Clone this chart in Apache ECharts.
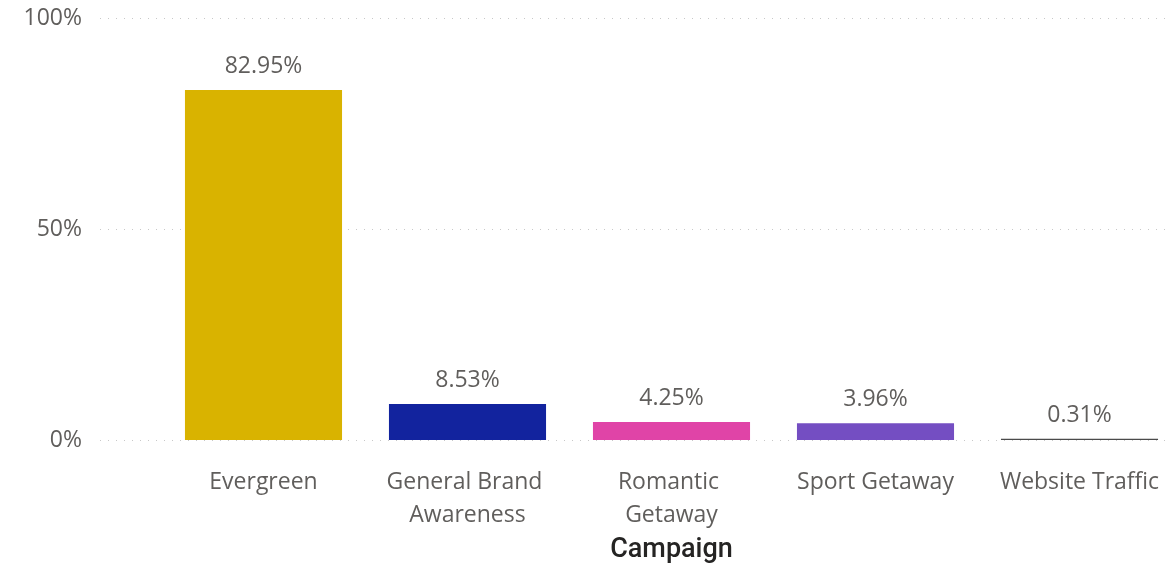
<!DOCTYPE html>
<html>
<head>
<meta charset="utf-8">
<script src="https://cdn.jsdelivr.net/npm/echarts@6/dist/echarts.min.js"></script>
<style>
  html, body { margin: 0; padding: 0; background: #fff; }
  #chart { width: 1170px; height: 564px; }
</style>
</head>
<body>
<div id="chart"></div>
<script>
// Share of total by campaign
const campaigns = ['Evergreen', 'General Brand Awareness', 'Romantic Getaway', 'Sport Getaway', 'Website Traffic'];
const shares = [82.95, 8.53, 4.25, 3.96, 0.31];
const barColors = ['#D9B300', '#12239E', '#E044A7', '#744EC2', '#4A4A4A'];
const yTicks = [0, 50, 100];

const FONT = '"Open Sans", "Noto Sans", sans-serif';
const chart = echarts.init(document.getElementById('chart'));

chart.setOption({
  animation: false,
  grid: [
    // value axis with its gridlines
    { left: 100, right: 0, top: 18, bottom: 124, outerBoundsMode: 'none' },
    // category area for the bars
    { left: 161.5, width: 1020, top: 18, bottom: 124, outerBoundsMode: 'none' }
  ],
  xAxis: [
    { gridIndex: 0, type: 'value', show: false, min: 0, max: 1 },
    {
      gridIndex: 1,
      type: 'category',
      data: campaigns,
      axisLine: { show: false },
      axisTick: { show: false },
      axisLabel: {
        interval: 0,
        margin: 26,
        fontFamily: FONT,
        fontSize: 23,
        color: '#605E5C',
        lineHeight: 33,
        width: 180,
        overflow: 'break'
      },
      name: 'Campaign',
      nameLocation: 'middle',
      nameGap: 93,
      nameTextStyle: {
        fontFamily: '"Roboto", "DejaVu Sans", sans-serif',
        fontSize: 27,
        fontWeight: 500,
        color: '#252423'
      }
    }
  ],
  yAxis: [
    {
      gridIndex: 0,
      type: 'value',
      min: 0,
      max: 100,
      interval: 50,
      axisLine: { show: false },
      axisTick: { show: false },
      axisLabel: {
        margin: 18,
        fontFamily: FONT,
        fontSize: 23,
        color: '#605E5C',
        formatter: v => (yTicks.includes(v) ? v + '%' : '')
      },
      splitLine: {
        show: true,
        lineStyle: { color: '#C8C8C8', width: 1, type: [1, 7] }
      }
    },
    { gridIndex: 1, type: 'value', min: 0, max: 100, show: false }
  ],
  series: [
    {
      type: 'bar',
      xAxisIndex: 1,
      yAxisIndex: 1,
      data: shares.map((v, i) => ({ value: v, itemStyle: { color: barColors[i] } })),
      barCategoryGap: '23%',
      label: {
        show: true,
        position: 'top',
        distance: 12,
        fontFamily: FONT,
        fontSize: 23,
        color: '#605E5C',
        formatter: p => p.value.toFixed(2) + '%'
      }
    }
  ]
});
</script>
</body>
</html>
